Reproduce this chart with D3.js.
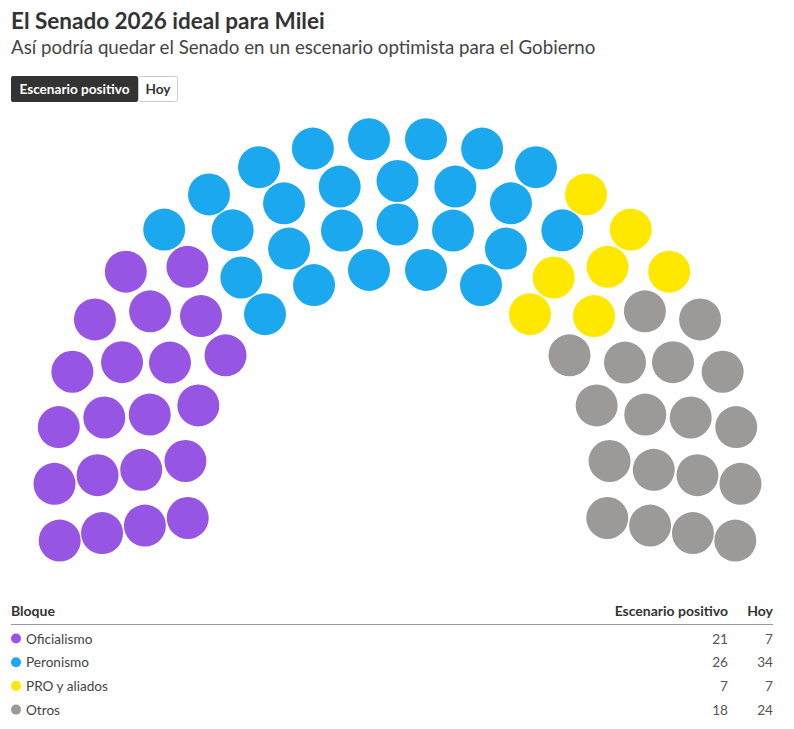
<!DOCTYPE html>
<html>
<head>
<meta charset="utf-8">
<script src="https://cdn.jsdelivr.net/npm/d3@7"></script>
<style>
  body { margin: 0; background: #fff; }
  svg text { font-family: Lato, "Noto Sans", sans-serif; }
</style>
</head>
<body>
<div id="chart"></div>
<script>
const blocs = ['Oficialismo', 'Peronismo', 'PRO y aliados', 'Otros'];
const seatsPositivo = [21, 26, 7, 18];
const seatsHoy = [7, 34, 7, 24];
const blocColors = ['#9656e3', '#1ba8ee', '#ffe800', '#9c9999'];
const columnLabels = ['Bloque', 'Escenario positivo', 'Hoy'];

const svgWidth = 794;
const svgHeight = 729;

const svg = d3.select('#chart').append('svg')
  .attr('width', svgWidth)
  .attr('height', svgHeight);

// header
svg.append('text')
  .attr('x', 11).attr('y', 29)
  .attr('font-size', '22.5px').attr('font-weight', 700).attr('fill', '#333')
  .text('El Senado 2026 ideal para Milei');

svg.append('text')
  .attr('x', 11).attr('y', 54)
  .attr('font-size', '18.7px').attr('fill', '#444')
  .text('Así podría quedar el Senado en un escenario optimista para el Gobierno');

// toggle buttons
const buttons = svg.append('g').attr('transform', 'translate(11, 76)');
buttons.append('rect')
  .attr('x', 127.5).attr('y', 0.5).attr('width', 39).attr('height', 25).attr('rx', 2)
  .attr('fill', '#fff').attr('stroke', '#ccc');
buttons.append('rect')
  .attr('x', 0).attr('y', 0).attr('width', 127).attr('height', 26).attr('rx', 2)
  .attr('fill', '#333');
buttons.append('text')
  .attr('x', 63.5).attr('y', 17.5).attr('text-anchor', 'middle')
  .attr('font-size', '13.6px').attr('font-weight', 700).attr('fill', '#fff')
  .text('Escenario positivo');
buttons.append('text')
  .attr('x', 147).attr('y', 17.5).attr('text-anchor', 'middle')
  .attr('font-size', '13.6px').attr('font-weight', 700).attr('fill', '#333')
  .text('Hoy');

// parliament layout
const cx = 397.5;
const cy = 481;
const rowRadii = [213, 256.5, 300, 343];
const dotRadius = 21;
const totalSeats = d3.sum(seatsPositivo);
const radiusSum = d3.sum(rowRadii);
const rowCounts = rowRadii.map(r => Math.round(totalSeats * r / radiusSum));

let seats = [];
rowRadii.forEach((r, i) => {
  const n = rowCounts[i];
  const angle = d3.scaleLinear().domain([0, n - 1]).range([-10, 190]);
  d3.range(n).forEach(k => {
    seats.push({ row: i, r: r, angle: angle(k) });
  });
});

seats.sort((a, b) => {
  const da = Math.round(a.angle * 1e4) - Math.round(b.angle * 1e4);
  return da !== 0 ? da : a.r - b.r;
});

const cumulative = d3.cumsum(seatsPositivo);
seats.forEach((s, i) => {
  s.bloc = cumulative.findIndex(c => i < c);
});

const toRad = d => d * Math.PI / 180;

svg.append('g').selectAll('circle')
  .data(seats)
  .enter()
  .append('circle')
  .attr('cx', d => cx - d.r * Math.cos(toRad(d.angle)))
  .attr('cy', d => cy - d.r * Math.sin(toRad(d.angle)))
  .attr('r', dotRadius)
  .attr('fill', d => blocColors[d.bloc]);

// table
const table = svg.append('g');
const colRight = [728, 773];

table.append('text')
  .attr('x', 11).attr('y', 616)
  .attr('font-size', '14px').attr('font-weight', 700).attr('fill', '#333')
  .text(columnLabels[0]);
columnLabels.slice(1).forEach((lbl, i) => {
  table.append('text')
    .attr('x', colRight[i]).attr('y', 616).attr('text-anchor', 'end')
    .attr('font-size', '14px').attr('font-weight', 700).attr('fill', '#333')
    .text(lbl);
});

table.append('line')
  .attr('x1', 11).attr('x2', 773).attr('y1', 624.5).attr('y2', 624.5)
  .attr('stroke', '#999').attr('stroke-width', 1);

const rowY = d3.scaleLinear().domain([0, 1]).range([643.5, 667.2]);

const rows = table.selectAll('.row')
  .data(blocs)
  .enter()
  .append('g')
  .attr('class', 'row')
  .attr('transform', (d, i) => `translate(0, ${rowY(i)})`);

rows.append('circle')
  .attr('cx', 16).attr('cy', -5).attr('r', 5)
  .attr('fill', (d, i) => blocColors[i]);

rows.append('text')
  .attr('x', 26).attr('y', 0)
  .attr('font-size', '13.6px').attr('fill', '#444')
  .text(d => d);

rows.append('text')
  .attr('x', colRight[0]).attr('y', 0).attr('text-anchor', 'end')
  .attr('font-size', '13.6px').attr('fill', '#555')
  .text((d, i) => seatsPositivo[i]);

rows.append('text')
  .attr('x', colRight[1]).attr('y', 0).attr('text-anchor', 'end')
  .attr('font-size', '13.6px').attr('fill', '#555')
  .text((d, i) => seatsHoy[i]);
</script>
</body>
</html>
